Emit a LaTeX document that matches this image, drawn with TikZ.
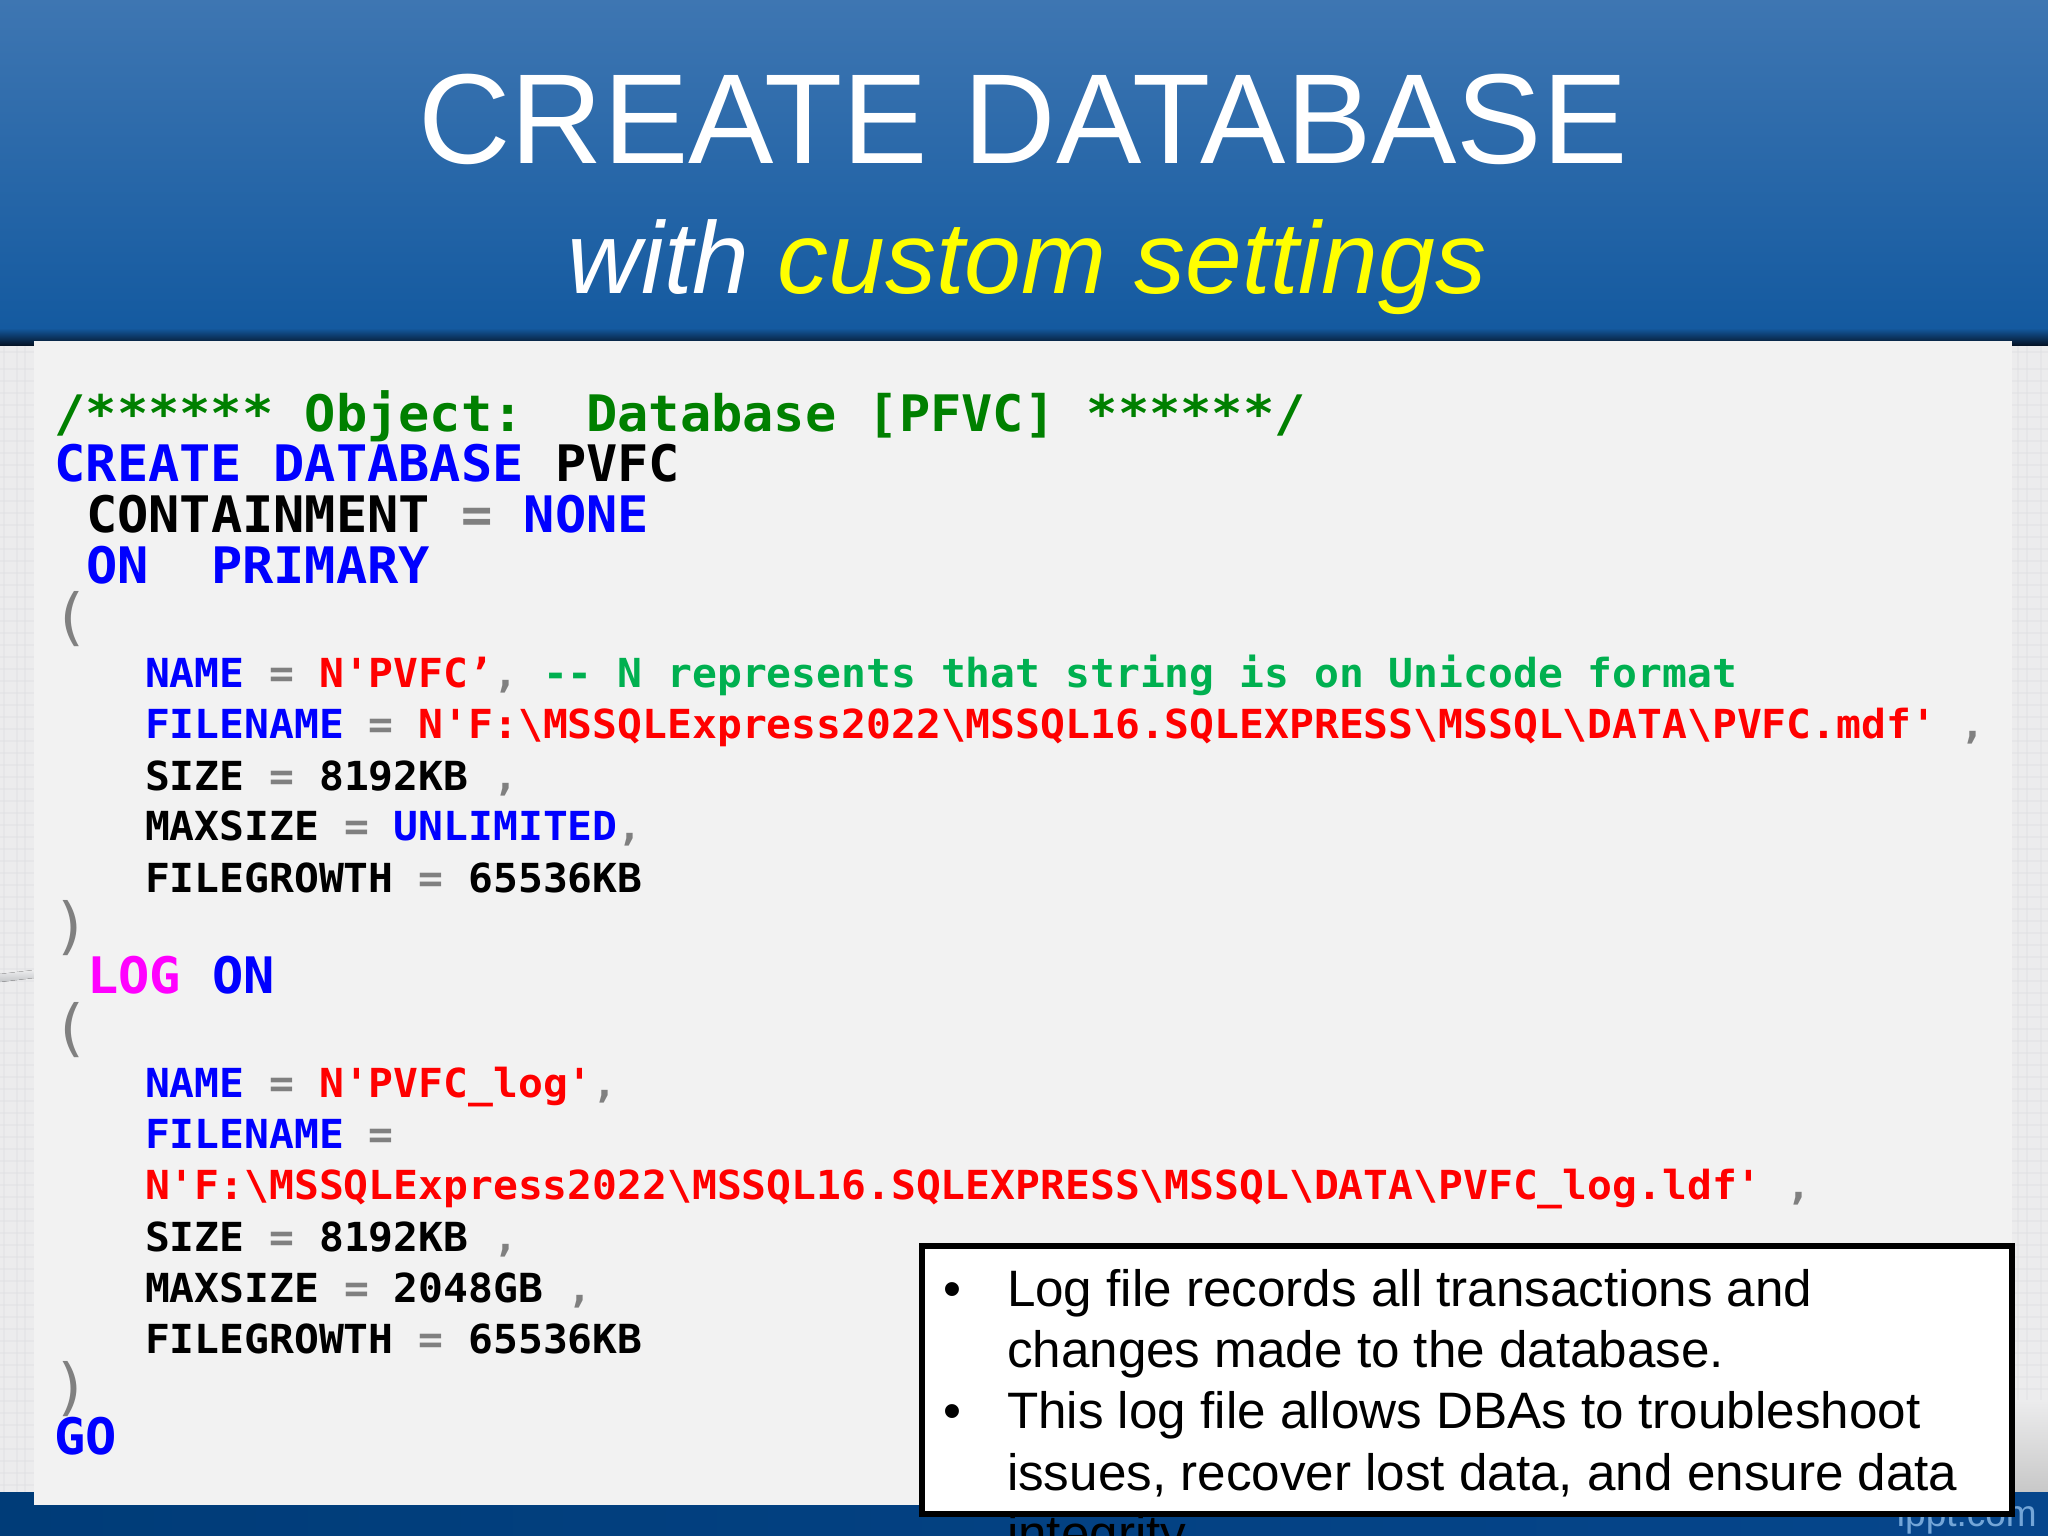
\documentclass[tikz,border=0pt]{standalone}
\usepackage{fontspec}
\setmainfont{Liberation Sans}
\newfontfamily\codefont[FakeStretch=1.033]{DejaVu Sans Mono Bold}
\newfontfamily\parenfont{DejaVu Sans Mono}
\definecolor{kw}{RGB}{0,0,255}
\definecolor{st}{RGB}{255,0,0}
\definecolor{cm}{RGB}{0,128,0}
\definecolor{cm2}{RGB}{0,176,80}
\definecolor{op}{RGB}{128,128,128}
\definecolor{mg}{RGB}{255,0,255}
\definecolor{panel}{RGB}{242,242,242}
\definecolor{strip}{RGB}{236,236,237}
\definecolor{weave}{RGB}{222,223,225}
\newcommand{\kw}[1]{\textcolor{kw}{#1}}
\newcommand{\st}[1]{\textcolor{st}{#1}}
\newcommand{\op}[1]{\textcolor{op}{#1}}
\newcommand{\bs}{\textbackslash}
\tikzset{
  big/.style={anchor=base west,inner sep=0pt,outer sep=0pt,font=\codefont\fontsize{50.3}{60}\selectfont},
  small/.style={anchor=base west,inner sep=0pt,outer sep=0pt,font=\codefont\fontsize{40}{48}\selectfont},
  paren/.style={anchor=base west,inner sep=0pt,outer sep=0pt,text=op,font=\parenfont\fontsize{62}{70}\selectfont},
  note/.style={anchor=base west,inner sep=0pt,outer sep=0pt,font=\fontsize{51.2}{60}\selectfont},
  notebullet/.style={anchor=base,inner sep=0pt,outer sep=0pt,font=\fontsize{51.2}{60}\selectfont},
  weaveline/.style={weave,line width=2pt,opacity=.4},
}
\begin{document}
\begin{tikzpicture}[x=1pt,y=-1pt]
\useasboundingbox (0,0) rectangle (2048,1536);
\begin{scope}
\clip (0,0) rectangle (2048,1536);
% backgrounds
\fill[strip] (0,345) rectangle (2048,1495);
\foreach \yy in {352,369,381,...,1490} {
  \draw[weaveline] (0,\yy) -- (34,\yy);
  \draw[weaveline] (2012,\yy) -- (2048,\yy);
}
\foreach \xx in {4,17,25} \draw[weaveline] (\xx,345) -- (\xx,1492);
\foreach \xx in {2018,2027,2041} \draw[weaveline] (\xx,345) -- (\xx,1492);
\fill[top color=strip,bottom color={rgb,255:red,200;green,200;blue,200}] (2012,1400) rectangle (2048,1492);
\fill[top color=strip,bottom color={rgb,255:red,195;green,197;blue,200}] (0,974) -- (34,970) -- (34,978) -- (0,982) -- cycle;
\fill[top color={rgb,255:red,62;green,118;blue,178},bottom color={rgb,255:red,20;green,90;blue,160}] (0,0) rectangle (2048,328);
\fill[top color={rgb,255:red,20;green,90;blue,160},bottom color={rgb,255:red,4;green,20;blue,40}] (0,328) rectangle (2048,345);
\fill[left color={rgb,255:red,0;green,60;blue,120},right color={rgb,255:red,6;green,70;blue,140}] (0,1492) rectangle (2048,1536);
\fill[panel] (34,341) rectangle (2012,1505);
% title
\node[anchor=base,inner sep=0pt,text=white,font=\fontsize{128}{140}\selectfont] (title) at (1023,164) {CREATE DATABASE};
\node[anchor=base,inner sep=0pt,text=white,font=\itshape\fontsize{102}{120}\selectfont] (subtitle) at (1027,293) {with \textcolor[RGB]{255,255,0}{custom settings}};
% code
\node[big,text=cm] (c1) at (54.5,431.7) {/****** Object:\ \ Database [PFVC] ******/};
\node[big] (c2) at (54.5,481.7) {\kw{CREATE DATABASE} PVFC};
\node[big] (c3) at (86,532) {CONTAINMENT \op{=} \kw{NONE}};
\node[big,text=kw] (c4) at (86,583) {ON\ \ PRIMARY};
\node[paren] (p1) at (52,638) {(};
\node[small] (a1) at (145,687) {\kw{NAME} \op{=} \st{N'PVFC’}\op{,} \textcolor{cm2}{-- N represents that string is on Unicode format}};
\node[small] (a2) at (145,738) {\kw{FILENAME} \op{=} \st{N'F:\bs MSSQLExpress2022\bs MSSQL16.SQLEXPRESS\bs MSSQL\bs DATA\bs PVFC.mdf'} \op{,}};
\node[small] (a3) at (145,790) {SIZE \op{=} 8192KB \op{,}};
\node[small] (a4) at (145,840.5) {MAXSIZE \op{=} \kw{UNLIMITED}\op{,}};
\node[small] (a5) at (145,892) {FILEGROWTH \op{=} 65536KB};
\node[paren] (p2) at (52,947) {)};
\node[big] (c5) at (87,993) {\textcolor{mg}{LOG} \kw{ON}};
\node[paren] (p3) at (52,1049) {(};
\node[small] (b1) at (145,1097) {\kw{NAME} \op{=} \st{N'PVFC\_log'}\op{,}};
\node[small] (b2) at (145,1148) {\kw{FILENAME} \op{=}};
\node[small] (b3) at (145,1199) {\st{N'F:\bs MSSQLExpress2022\bs MSSQL16.SQLEXPRESS\bs MSSQL\bs DATA\bs PVFC\_log.ldf'} \op{,}};
\node[small] (b4) at (145,1251) {SIZE \op{=} 8192KB \op{,}};
\node[small] (b5) at (145,1302) {MAXSIZE \op{=} 2048GB \op{,}};
\node[small] (b6) at (145,1353) {FILEGROWTH \op{=} 65536KB};
\node[paren] (p4) at (52,1408) {)};
\node[big,text=kw] (c6) at (54.5,1454) {GO};
% watermark
\node[anchor=base east,inner sep=0pt,text={rgb,255:red,115;green,165;blue,215},font=\fontsize{37}{44}\selectfont] (wm) at (2037,1526) {ippt.com};
% note
\node[draw=black,line width=6pt,fill=white,minimum width=1090pt,minimum height=268pt,inner sep=0pt,anchor=north west] (box) at (919,1243) {};
\node[note] (n1) at (1007,1306) {Log file records all transactions and};
\node[note] (n2) at (1007,1367.5) {changes made to the database.};
\node[note] (n3) at (1007,1428.5) {This log file allows DBAs to troubleshoot};
\node[note] (n4) at (1007,1490) {issues, recover lost data, and ensure data};
\node[note] (n5) at (1007,1551) {integrity};
\node[notebullet] (bullet1) at (952,1306) {•};
\node[notebullet] (bullet2) at (952,1428.5) {•};
\end{scope}
\end{tikzpicture}
\end{document}
